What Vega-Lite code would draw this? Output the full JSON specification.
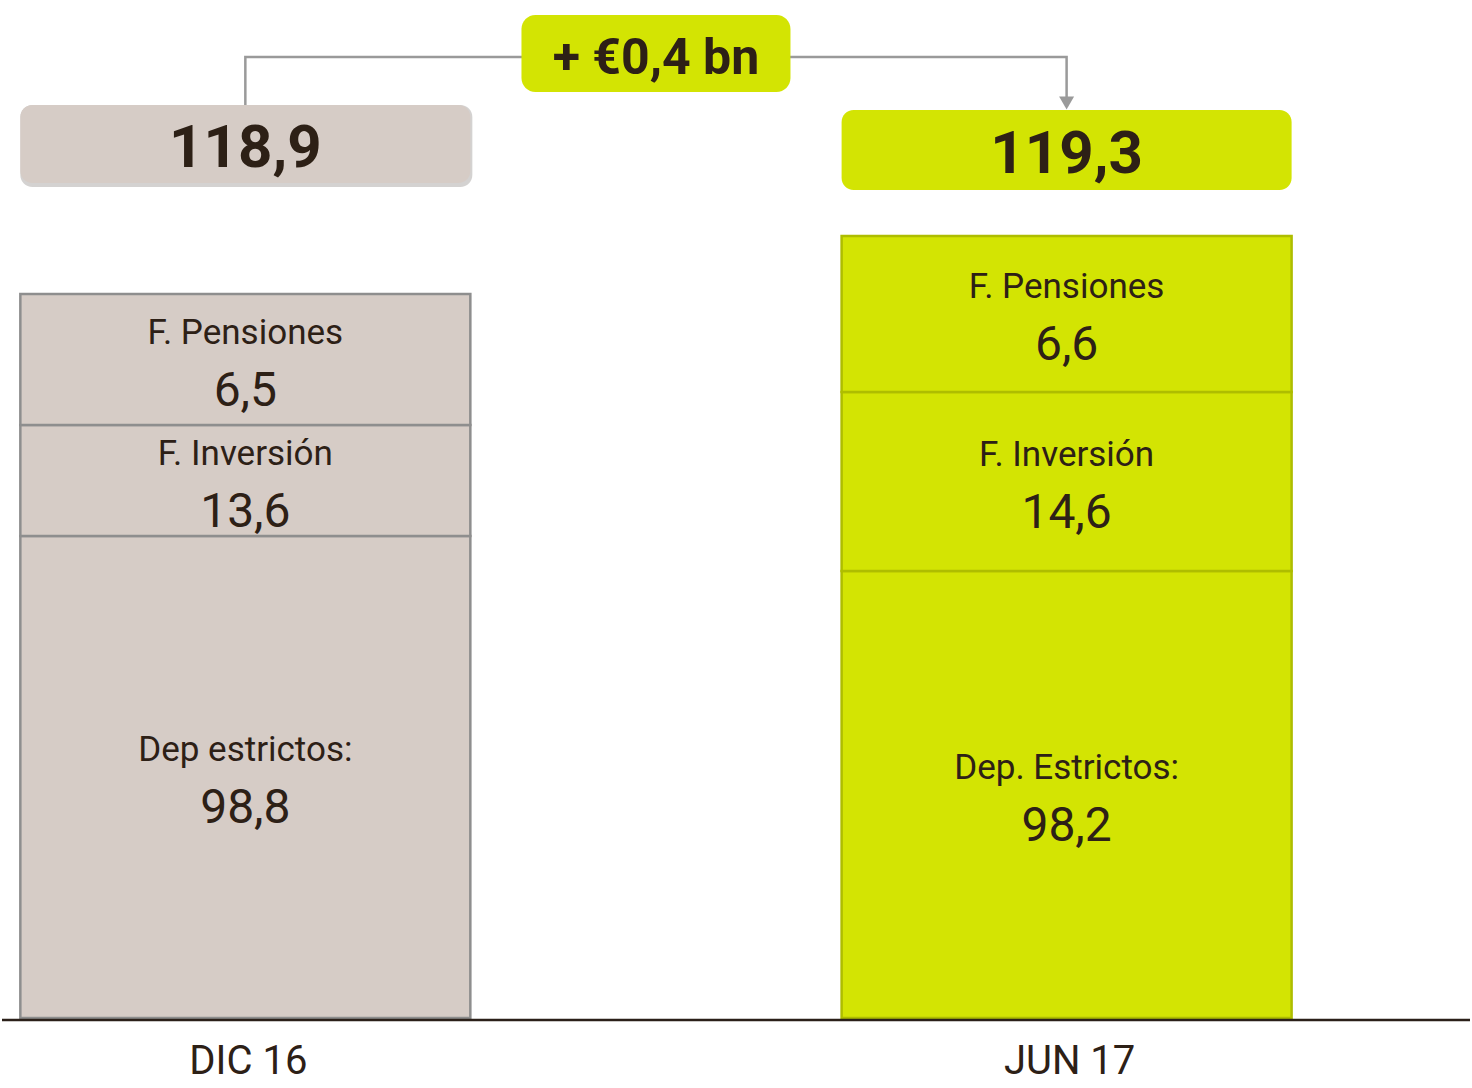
{
  "$schema": "https://vega.github.io/schema/vega-lite/v6.json",
  "width": 1472,
  "height": 1088,
  "padding": 0,
  "autosize": {"type": "fit", "contains": "padding"},
  "background": "white",
  "config": {
    "view": {"stroke": null},
    "font": "Roboto",
    "scale": {"continuousPadding": 0},
    "locale": {"number": {"decimal": ",", "thousands": ".", "grouping": [3], "currency": ["€", ""]}}
  },
  "datasets": {
    "segmentos": [
      {"periodo": "DIC 16", "pos": 1, "segmento": "Dep estrictos:", "valor": 98.8, "base": 2, "tope": 484},
      {"periodo": "DIC 16", "pos": 1, "segmento": "F. Inversión", "valor": 13.6, "base": 484, "tope": 595},
      {"periodo": "DIC 16", "pos": 1, "segmento": "F. Pensiones", "valor": 6.5, "base": 595, "tope": 726},
      {"periodo": "JUN 17", "pos": 2, "segmento": "Dep. Estrictos:", "valor": 98.2, "base": 2, "tope": 449},
      {"periodo": "JUN 17", "pos": 2, "segmento": "F. Inversión", "valor": 14.6, "base": 449, "tope": 628},
      {"periodo": "JUN 17", "pos": 2, "segmento": "F. Pensiones", "valor": 6.6, "base": 628, "tope": 784}
    ],
    "totales": [
      {"periodo": "DIC 16", "pos": 1, "total": 118.9, "base": 837, "tope": 915},
      {"periodo": "JUN 17", "pos": 2, "total": 119.3, "base": 830, "tope": 910}
    ],
    "cambio": [
      {"pos": 1.5, "etiqueta": "+ €0,4 bn", "base": 928, "tope": 1005}
    ],
    "conector": [
      {"orden": 1, "pos": 1, "nivel": 915},
      {"orden": 2, "pos": 1, "nivel": 963},
      {"orden": 3, "pos": 2, "nivel": 963},
      {"orden": 4, "pos": 2, "nivel": 920}
    ],
    "flecha": [
      {"pos": 2, "nivel": 917}
    ],
    "periodos": [
      {"periodo": "DIC 16", "pos": 1},
      {"periodo": "JUN 17", "pos": 2}
    ]
  },
  "layer": [
    {
      "data": {"name": "totales"},
      "transform": [{"filter": "datum.periodo === 'DIC 16'"}],
      "mark": {"type": "bar", "width": 452, "cornerRadius": 12, "fill": "#6f6a68", "opacity": 0.3, "yOffset": 4, "xOffset": 1},
      "encoding": {
        "x": {"field": "pos", "type": "quantitative", "scale": {"domain": [0.7037, 2.49119], "nice": false, "zero": false, "padding": 0}, "axis": null},
        "y": {"field": "base", "type": "quantitative", "scale": {"domain": [-68, 1020], "nice": false, "zero": false, "padding": 0}, "axis": null},
        "y2": {"field": "tope"}
      }
    },
    {
      "data": {"name": "totales"},
      "mark": {"type": "bar", "width": 450, "cornerRadius": 12},
      "encoding": {
        "x": {"field": "pos", "type": "quantitative", "scale": {"domain": [0.7037, 2.49119], "nice": false, "zero": false, "padding": 0}, "axis": null},
        "y": {"field": "base", "type": "quantitative", "scale": {"domain": [-68, 1020], "nice": false, "zero": false, "padding": 0}, "axis": null},
        "y2": {"field": "tope"},
        "fill": {"field": "periodo", "type": "nominal", "scale": {"domain": ["DIC 16", "JUN 17"], "range": ["#d6ccc6", "#d3e403"]}, "legend": null}
      }
    },
    {
      "data": {"name": "conector"},
      "mark": {"type": "line", "color": "#9a9a9a", "strokeWidth": 2.5, "interpolate": "linear"},
      "encoding": {
        "x": {"field": "pos", "type": "quantitative", "scale": {"domain": [0.7037, 2.49119], "nice": false, "zero": false, "padding": 0}, "axis": null},
        "y": {"field": "nivel", "type": "quantitative", "scale": {"domain": [-68, 1020], "nice": false, "zero": false, "padding": 0}, "axis": null},
        "order": {"field": "orden", "type": "quantitative"}
      }
    },
    {
      "data": {"name": "flecha"},
      "mark": {"type": "point", "shape": "triangle-down", "size": 225, "filled": true, "color": "#9a9a9a", "opacity": 1},
      "encoding": {
        "x": {"field": "pos", "type": "quantitative", "scale": {"domain": [0.7037, 2.49119], "nice": false, "zero": false, "padding": 0}, "axis": null},
        "y": {"field": "nivel", "type": "quantitative", "scale": {"domain": [-68, 1020], "nice": false, "zero": false, "padding": 0}, "axis": null}
      }
    },
    {
      "data": {"name": "cambio"},
      "mark": {"type": "bar", "width": 269, "cornerRadius": 14, "fill": "#d3e403"},
      "encoding": {
        "x": {"field": "pos", "type": "quantitative", "scale": {"domain": [0.7037, 2.49119], "nice": false, "zero": false, "padding": 0}, "axis": null},
        "y": {"field": "base", "type": "quantitative", "scale": {"domain": [-68, 1020], "nice": false, "zero": false, "padding": 0}, "axis": null},
        "y2": {"field": "tope"}
      }
    },
    {
      "data": {"name": "cambio"},
      "transform": [{"calculate": "(datum.base + datum.tope) / 2", "as": "medio"}],
      "mark": {"type": "text", "font": "Roboto", "fontWeight": "bold", "fontSize": 50, "color": "#2d2016", "align": "center", "baseline": "middle", "dy": 5},
      "encoding": {
        "x": {"field": "pos", "type": "quantitative", "scale": {"domain": [0.7037, 2.49119], "nice": false, "zero": false, "padding": 0}, "axis": null},
        "y": {"field": "medio", "type": "quantitative", "scale": {"domain": [-68, 1020], "nice": false, "zero": false, "padding": 0}, "axis": null},
        "text": {"field": "etiqueta"}
      }
    },
    {
      "data": {"name": "totales"},
      "transform": [{"calculate": "(datum.base + datum.tope) / 2", "as": "medio"}],
      "mark": {"type": "text", "font": "Roboto", "fontWeight": "bold", "fontSize": 60, "color": "#2d2016", "align": "center", "baseline": "middle", "dy": 5},
      "encoding": {
        "x": {"field": "pos", "type": "quantitative", "scale": {"domain": [0.7037, 2.49119], "nice": false, "zero": false, "padding": 0}, "axis": null},
        "y": {"field": "medio", "type": "quantitative", "scale": {"domain": [-68, 1020], "nice": false, "zero": false, "padding": 0}, "axis": null},
        "text": {"field": "total", "type": "quantitative", "format": ".1f"}
      }
    },
    {
      "data": {"name": "segmentos"},
      "mark": {"type": "bar", "width": 450, "strokeWidth": 2.5},
      "encoding": {
        "x": {"field": "pos", "type": "quantitative", "scale": {"domain": [0.7037, 2.49119], "nice": false, "zero": false, "padding": 0}, "axis": null},
        "y": {"field": "base", "type": "quantitative", "scale": {"domain": [-68, 1020], "nice": false, "zero": false, "padding": 0}, "axis": null},
        "y2": {"field": "tope"},
        "fill": {"field": "periodo", "type": "nominal", "scale": {"domain": ["DIC 16", "JUN 17"], "range": ["#d6ccc6", "#d3e403"]}, "legend": null},
        "stroke": {"field": "periodo", "type": "nominal", "scale": {"domain": ["DIC 16", "JUN 17"], "range": ["#8e8e8e", "#aebd00"]}, "legend": null}
      }
    },
    {
      "data": {"name": "segmentos"},
      "transform": [{"calculate": "(datum.base + datum.tope) / 2", "as": "medio"}],
      "mark": {"type": "text", "font": "Roboto", "fontSize": 35, "color": "#2d2016", "align": "center", "baseline": "middle", "dy": -27},
      "encoding": {
        "x": {"field": "pos", "type": "quantitative", "scale": {"domain": [0.7037, 2.49119], "nice": false, "zero": false, "padding": 0}, "axis": null},
        "y": {"field": "medio", "type": "quantitative", "scale": {"domain": [-68, 1020], "nice": false, "zero": false, "padding": 0}, "axis": null},
        "text": {"field": "segmento"}
      }
    },
    {
      "data": {"name": "segmentos"},
      "transform": [{"calculate": "(datum.base + datum.tope) / 2", "as": "medio"}],
      "mark": {"type": "text", "font": "Roboto", "fontSize": 48, "color": "#2d2016", "align": "center", "baseline": "middle", "dy": 32},
      "encoding": {
        "x": {"field": "pos", "type": "quantitative", "scale": {"domain": [0.7037, 2.49119], "nice": false, "zero": false, "padding": 0}, "axis": null},
        "y": {"field": "medio", "type": "quantitative", "scale": {"domain": [-68, 1020], "nice": false, "zero": false, "padding": 0}, "axis": null},
        "text": {"field": "valor", "type": "quantitative", "format": ".1f"}
      }
    },
    {
      "data": {"values": [{"base": 0}]},
      "mark": {"type": "rule", "color": "#2b2019", "strokeWidth": 2.5},
      "encoding": {
        "y": {"field": "base", "type": "quantitative", "scale": {"domain": [-68, 1020], "nice": false, "zero": false, "padding": 0}, "axis": null}
      }
    },
    {
      "data": {"name": "periodos"},
      "mark": {"type": "text", "font": "Roboto", "fontSize": 40, "color": "#2d2016", "align": "center", "baseline": "middle", "dx": 3},
      "encoding": {
        "x": {"field": "pos", "type": "quantitative", "scale": {"domain": [0.7037, 2.49119], "nice": false, "zero": false, "padding": 0}, "axis": null},
        "y": {"datum": -42, "type": "quantitative", "scale": {"domain": [-68, 1020], "nice": false, "zero": false, "padding": 0}, "axis": null},
        "text": {"field": "periodo"}
      }
    }
  ]
}
